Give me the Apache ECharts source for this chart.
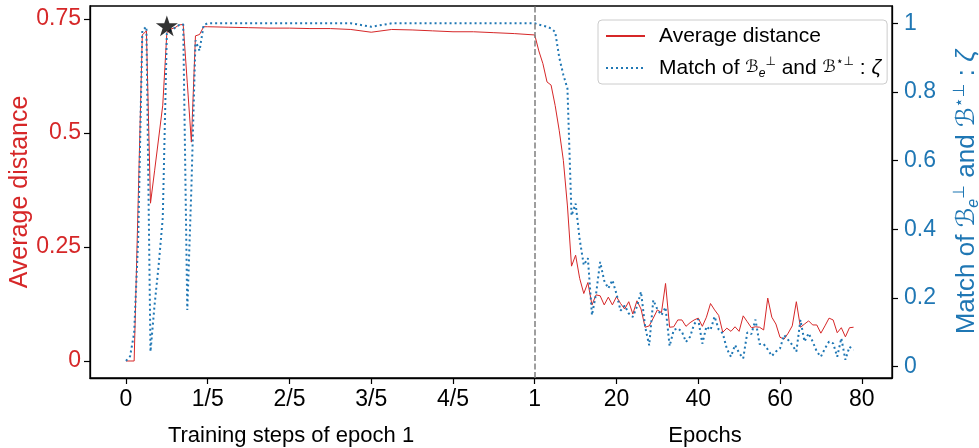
<!DOCTYPE html>
<html><head><meta charset="utf-8">
<script src="https://cdn.jsdelivr.net/npm/echarts@6/dist/echarts.min.js"></script>
<style>html,body{margin:0;padding:0;background:#fff}#c{width:979px;height:448px}</style>
</head><body><div id="c"></div>
<script>
// Training steps of epoch 1 (fraction of the epoch)
const stepFrac  = [0,0.01,0.02,0.03,0.04,0.05,0.06,0.07,0.08,0.09,0.10,0.11,0.12,0.13,0.14,0.15,0.16,0.17,0.18,0.19,0.20,0.25,0.30,0.35,0.40,0.45,0.50,0.55,0.60,0.65,0.70,0.75,0.80,0.85,0.90,0.95,1.00];
const stepDist  = [0,0,0,0.356,0.715,0.724,0.346,0.417,0.489,0.561,0.72,0.728,0.731,0.737,0.738,0.61,0.48,0.713,0.716,0.733,0.733,0.732,0.731,0.730,0.730,0.729,0.729,0.727,0.721,0.727,0.726,0.724,0.722,0.722,0.720,0.718,0.715];
const stepMatch = [0.017,0.03,0.098,0.375,0.98,0.99,0.044,0.18,0.296,0.433,0.97,0.98,0.987,0.995,0.997,0.165,0.52,0.95,0.92,0.995,1.0,1,1,1,1,1,1,1,0.99,1,1,1,1,1,1,1,1];
// Epochs after epoch 1
const epochs = [1,2,3,4,5,6,7,8,9,10,11,12,13,14,15,16,17,18,19,20,21,22,23,24,25,26,27,28,29,30,31,32,33,34,35,36,37,38,39,40,41,42,43,44,45,46,47,48,49,50,51,52,53,54,55,56,57,58,59,60,61,62,63,64,65,66,67,68,69,70,71,72,73,74,75,76,77,78];
const epochDist = [0.68,0.652,0.612,0.605,0.56,0.505,0.44,0.34,0.208,0.232,
  0.181,0.148,0.172,0.123,0.145,0.143,0.123,0.14,0.123,0.141,
  0.126,0.114,0.13,0.103,0.132,0.114,0.074,0.077,0.094,0.112,
  0.106,0.17,0.074,0.075,0.09,0.09,0.076,0.084,0.09,0.094,
  0.076,0.096,0.126,0.112,0.1,0.063,0.072,0.065,0.075,0.065,
  0.099,0.086,0.073,0.075,0.074,0.068,0.138,0.096,0.081,0.052,
  0.048,0.061,0.077,0.13,0.074,0.081,0.088,0.079,0.079,0.061,
  0.077,0.094,0.09,0.062,0.073,0.053,0.073,0.074];
const epochMatch = [0.996,0.993,0.99,0.985,0.975,0.9,0.85,0.81,0.44,0.475,
  0.37,0.296,0.316,0.15,0.212,0.305,0.25,0.228,0.252,0.212,
  0.163,0.178,0.155,0.145,0.175,0.218,0.117,0.062,0.194,0.167,
  0.15,0.173,0.06,0.107,0.112,0.102,0.072,0.087,0.124,0.138,
  0.067,0.117,0.107,0.146,0.108,0.097,0.052,0.029,0.063,0.04,
  0.024,0.1,0.095,0.137,0.066,0.066,0.05,0.031,0.044,0.053,
  0.092,0.078,0.063,0.044,0.136,0.073,0.097,0.073,0.044,0.029,
  0.053,0.073,0.068,0.029,0.083,0.02,0.058,0.049];
// Best step marker
const bestStep = 0.10;
const bestDist = 0.735;
// Ticks
const xTickValues = [0,1,2,3,4,5,6,7,8,9];
const xTickLabels = ['0','1/5','2/5','3/5','4/5','1','20','40','60','80'];
const distTicks  = [0,0.25,0.5,0.75];
const matchTicks = [0,0.2,0.4,0.6,0.8,1];

const RED = '#d62728', BLUE = '#1f77b4';
const FONT = '"Liberation Sans", "DejaVu Sans", sans-serif';
const stepToX = f => f * 5;
const epochToX = e => 5 + e / 20;

const distData = stepFrac.map((f, i) => [stepToX(f), stepDist[i]])
  .concat(epochs.map((e, i) => [epochToX(e), epochDist[i]]));
const matchData = stepFrac.map((f, i) => [stepToX(f), stepMatch[i]])
  .concat(epochs.map((e, i) => [epochToX(e), epochMatch[i]]));

const NAME1 = 'Average distance';
const NAME2 = 'Match of B and B : zeta';
const richName = 'Match of {B|ℬ}{sub|e}{sup|⊥} and {B|ℬ}{sup|⋆⊥} : {it|ζ}';
function mkRich(size, color, bScale, sScale) {
  const s = Math.round(size * sScale);
  return {
    B: {fontSize: Math.round(size * bScale), color, fontFamily: '"DejaVu Sans", sans-serif'},
    sub: {fontSize: s, lineHeight: s, verticalAlign: 'bottom', fontStyle: 'italic', color, fontFamily: FONT},
    sup: {fontSize: s, lineHeight: s, verticalAlign: 'top', color, fontFamily: FONT},
    it: {fontSize: size, fontStyle: 'italic', color, fontFamily: FONT}
  };
}

const starPath = 'path://M50,0 L61.2,34.5 L97.6,34.5 L68.2,55.9 L79.4,90.5 L50,69.1 L20.6,90.5 L31.8,55.9 L2.4,34.5 L38.8,34.5 Z';

const chart = echarts.init(document.getElementById('c'), null, {renderer: 'canvas'});
chart.setOption({
  animation: false,
  backgroundColor: '#fff',
  grid: {left: 90, right: 87, top: 6, bottom: 70, show: true, borderColor: '#000', borderWidth: 1.3,
    backgroundColor: 'transparent', containLabel: false, outerBoundsMode: 'none'},
  legend: {
    data: [NAME1, NAME2],
    orient: 'vertical', left: 598, top: 20,
    padding: [4, 6, 4, 7], itemGap: 8, itemWidth: 39, itemHeight: 12,
    backgroundColor: '#fff', borderColor: '#cccccc', borderWidth: 1, borderRadius: 4,
    itemStyle: {opacity: 0},
    formatter: n => n === NAME2 ? richName : n,
    textStyle: {fontFamily: FONT, fontSize: 21, color: '#000', lineHeight: 24, padding: [0, 0, 0, 9], rich: mkRich(21, '#000', 0.8, 0.55)}
  },
  xAxis: {
    type: 'value', min: -0.44, max: 9.37,
    axisLine: {show: true, onZero: false, lineStyle: {color: '#000', width: 1.3}},
    axisTick: {show: true, customValues: xTickValues, length: 6, lineStyle: {color: '#000', width: 1.2}},
    axisLabel: {customValues: xTickValues, formatter: v => xTickLabels[xTickValues.indexOf(v)], fontFamily: FONT, fontSize: 23, color: '#000', margin: 10},
    splitLine: {show: false}
  },
  yAxis: [{
    type: 'value', position: 'left', min: -0.0373, max: 0.7785,
    axisLine: {show: true, onZero: false, lineStyle: {color: '#000', width: 1.3}},
    axisTick: {show: true, customValues: distTicks, length: 6, lineStyle: {color: '#000', width: 1.2}},
    axisLabel: {customValues: distTicks, formatter: v => String(v), fontFamily: FONT, fontSize: 23, color: RED, margin: 9},
    splitLine: {show: false},
    name: 'Average distance', nameLocation: 'middle', nameRotate: 90, nameGap: 57, nameMoveOverlap: false,
    nameTextStyle: {fontFamily: FONT, fontSize: 25, color: RED}
  }, {
    type: 'value', position: 'right', min: -0.033, max: 1.0504,
    axisLine: {show: true, onZero: false, lineStyle: {color: '#000', width: 1.3}},
    axisTick: {show: true, customValues: matchTicks, length: 6, lineStyle: {color: '#000', width: 1.2}},
    axisLabel: {customValues: matchTicks, formatter: v => String(v), fontFamily: FONT, fontSize: 23, color: BLUE, margin: 12},
    splitLine: {show: false},
    name: richName, nameLocation: 'middle', nameRotate: 90, nameGap: 60, nameMoveOverlap: false,
    nameTextStyle: {fontFamily: FONT, fontSize: 26, color: BLUE, lineHeight: 30, rich: mkRich(26, BLUE, 0.95, 0.6)}
  }],
  graphic: [
    {type: 'text', x: 291, y: 436, style: {text: 'Training steps of epoch 1', font: '22px ' + FONT, fill: '#000', textAlign: 'center', textVerticalAlign: 'middle'}},
    {type: 'text', x: 705, y: 436, style: {text: 'Epochs', font: '22px ' + FONT, fill: '#000', textAlign: 'center', textVerticalAlign: 'middle'}}
  ],
  series: [{
    name: NAME1, type: 'line', yAxisIndex: 0, data: distData, symbol: 'none', z: 2,
    lineStyle: {color: RED, width: 1}, itemStyle: {color: RED},
    markLine: {silent: true, symbol: 'none', label: {show: false}, data: [{xAxis: 5}],
      lineStyle: {color: '#7f7f7f', type: [6, 2.5], width: 1.5}}
  }, {
    name: NAME2, type: 'line', yAxisIndex: 1, data: matchData, symbol: 'none', z: 3,
    lineStyle: {color: BLUE, width: 2, type: [2, 3], cap: 'butt'}, itemStyle: {color: BLUE}
  }, {
    type: 'scatter', yAxisIndex: 0, data: [[stepToX(bestStep), bestDist]], symbol: starPath, symbolSize: 22,
    symbolKeepAspect: true, itemStyle: {color: '#000'}, z: 5
  }]
});
</script></body></html>
